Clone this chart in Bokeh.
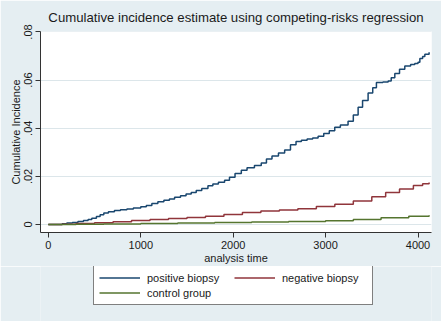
from bokeh.plotting import figure
from bokeh.layouts import column
from bokeh.models import FixedTicker, CustomJSTickFormatter, Legend, LegendItem, Range1d
from bokeh.embed import file_html
from bokeh.resources import INLINE

# positive biopsy
pos_t = [0, 100, 150, 200, 260, 320, 380, 430, 470, 520, 560, 600, 650, 715, 780, 850, 920, 1000,
         1060, 1120, 1185, 1250, 1310, 1366, 1430, 1490, 1546, 1600, 1660, 1727, 1780, 1840, 1907,
         1960, 2020, 2088, 2150, 2230, 2304, 2360, 2420, 2490, 2557, 2620, 2680, 2738, 2800, 2860,
         2919, 2980, 3040, 3099, 3160, 3243, 3300, 3352, 3400, 3460, 3510, 3550, 3620, 3677, 3710,
         3749, 3800, 3857, 3920, 3965, 4000, 4020, 4050, 4074, 4120]
pos_y = [0, 0, 0.0003, 0.0006, 0.0009, 0.0013, 0.0017, 0.0021, 0.0026, 0.0033, 0.0041, 0.0048,
         0.0053, 0.0058, 0.0062, 0.0065, 0.0069, 0.0074, 0.0079, 0.0087, 0.0095, 0.0101, 0.0106,
         0.0113, 0.0120, 0.0127, 0.0133, 0.0141, 0.0150, 0.0161, 0.0168, 0.0176, 0.0184, 0.0197,
         0.0212, 0.0226, 0.0236, 0.0245, 0.0256, 0.0272, 0.0285, 0.0297, 0.0310, 0.0332, 0.0345,
         0.0350, 0.0355, 0.0360, 0.0367, 0.0378, 0.0390, 0.0404, 0.0414, 0.0429, 0.0455, 0.0487,
         0.0515, 0.0546, 0.0568, 0.0590, 0.0592, 0.0596, 0.0610, 0.0628, 0.0645, 0.0659, 0.0665,
         0.0669, 0.0674, 0.0690, 0.0698, 0.0708, 0.0716]

# negative biopsy
neg_t = [0, 150, 300, 500, 700, 900, 1100, 1300, 1500, 1700, 1900, 2100, 2300, 2500, 2700, 2900,
         3100, 3300, 3500, 3650, 3800, 3950, 4050, 4120]
neg_y = [0, 0.0001, 0.0004, 0.0008, 0.0012, 0.0017, 0.0021, 0.0025, 0.0029, 0.0034, 0.0042, 0.0050,
         0.0056, 0.0060, 0.0066, 0.0075, 0.0084, 0.0098, 0.0115, 0.0133, 0.0148, 0.0162, 0.0170, 0.0175]

# control group
ctl_t = [0, 300, 600, 1000, 1400, 1800, 2200, 2600, 3000, 3300, 3600, 3900, 4120]
ctl_y = [0, 0.0001, 0.0002, 0.0004, 0.0006, 0.0009, 0.0011, 0.0013, 0.0016, 0.0021, 0.0028, 0.0035, 0.0039]

series_names = ["positive biopsy", "negative biopsy", "control group"]
series_colors = ["#1A476F", "#90353B", "#55752F"]

x_ticks = [0, 1000, 2000, 3000, 4000]
y_ticks = [0, 0.02, 0.04, 0.06, 0.08]

BG = "#E5EEF2"
FONT = "Liberation Sans"

p = figure(width=441, height=266, output_backend="svg", toolbar_location=None,
           x_range=Range1d(-85, 4146), y_range=Range1d(-0.0033, 0.0802),
           min_border_left=40, min_border_right=10, min_border_top=29, min_border_bottom=34)
p.background_fill_color = "white"
p.border_fill_color = BG
p.outline_line_color = None

p.title.text = "Cumulative incidence estimate using competing-risks regression"
p.title.align = "center"
p.title.text_font = FONT
p.title.text_font_size = "13.2px"
p.title.text_font_style = "normal"
p.title.text_color = "#1a1a1a"
p.title.offset = 0
p.title.standoff = 14

all_t = [pos_t, neg_t, ctl_t]
all_y = [pos_y, neg_y, ctl_y]
for t, y, c in zip(all_t, all_y, series_colors):
    p.step(t, y, mode="after", line_color=c, line_width=1.5)

p.xgrid.grid_line_color = None
p.ygrid.ticker = FixedTicker(ticks=y_ticks)
p.ygrid.grid_line_color = "#DCE6EA"
p.ygrid.grid_line_width = 1

p.xaxis.ticker = FixedTicker(ticks=x_ticks)
p.yaxis.ticker = FixedTicker(ticks=y_ticks)
p.yaxis.formatter = CustomJSTickFormatter(code="""
    if (tick == 0) return "0";
    return tick.toFixed(2).replace(/^0/, "");
""")
p.yaxis.major_label_orientation = "vertical"
for ax in (p.xaxis[0], p.yaxis[0]):
    ax.axis_line_color = "#333333"
    ax.major_tick_line_color = "#333333"
    ax.minor_tick_line_color = None
    ax.major_tick_out = 5
    ax.major_tick_in = 0
    ax.major_label_text_font = FONT
    ax.major_label_text_font_size = "11px"
    ax.major_label_text_color = "#1a1a1a"
    ax.axis_label_text_font = FONT
    ax.axis_label_text_font_size = "11px"
    ax.axis_label_text_font_style = "normal"
    ax.axis_label_text_color = "#1a1a1a"
p.xaxis.axis_label = "analysis time"
p.yaxis.axis_label = "Cumulative Incidence"
p.xaxis.axis_label_standoff = 0
p.yaxis.axis_label_standoff = 0
p.xaxis.major_label_standoff = 3
p.yaxis.major_label_standoff = 3

# legend strip below the plot (series drawn outside its visible range, only the key shows)
lg = figure(width=441, height=55, output_backend="svg", toolbar_location=None,
            x_axis_type=None, y_axis_type=None,
            x_range=Range1d(0, 1), y_range=Range1d(1, 2),
            min_border_left=40, min_border_right=10, min_border_top=0, min_border_bottom=0)
lg.grid.grid_line_color = None
lg.outline_line_color = None
lg.background_fill_color = BG
lg.border_fill_color = BG
rend = {}
for name, t, y, c in zip(series_names, all_t, all_y, series_colors):
    rend[name] = lg.step(t, y, mode="after", line_color=c, line_width=1.5)

# column-wise fill: col 1 = positive, control; col 2 = negative
order = ["positive biopsy", "control group", "negative biopsy"]
items = [LegendItem(label=n, renderers=[rend[n]]) for n in order]

legend = Legend(items=items, ncols=2, location=(53, 16))
legend.background_fill_color = "white"
legend.background_fill_alpha = 1
legend.border_line_color = "black"
legend.border_line_width = 1
legend.label_text_font = FONT
legend.label_text_font_size = "11px"
legend.label_text_color = "#1a1a1a"
legend.glyph_width = 41
legend.glyph_height = 13
legend.label_height = 13
legend.label_width = 85
legend.spacing = 2
legend.padding = 5
legend.margin = 0
legend.label_standoff = 7
legend.click_policy = "none"
lg.add_layout(legend, "center")

layout = column(p, lg, spacing=0)
open("out.html", "w").write(file_html(layout, INLINE))
